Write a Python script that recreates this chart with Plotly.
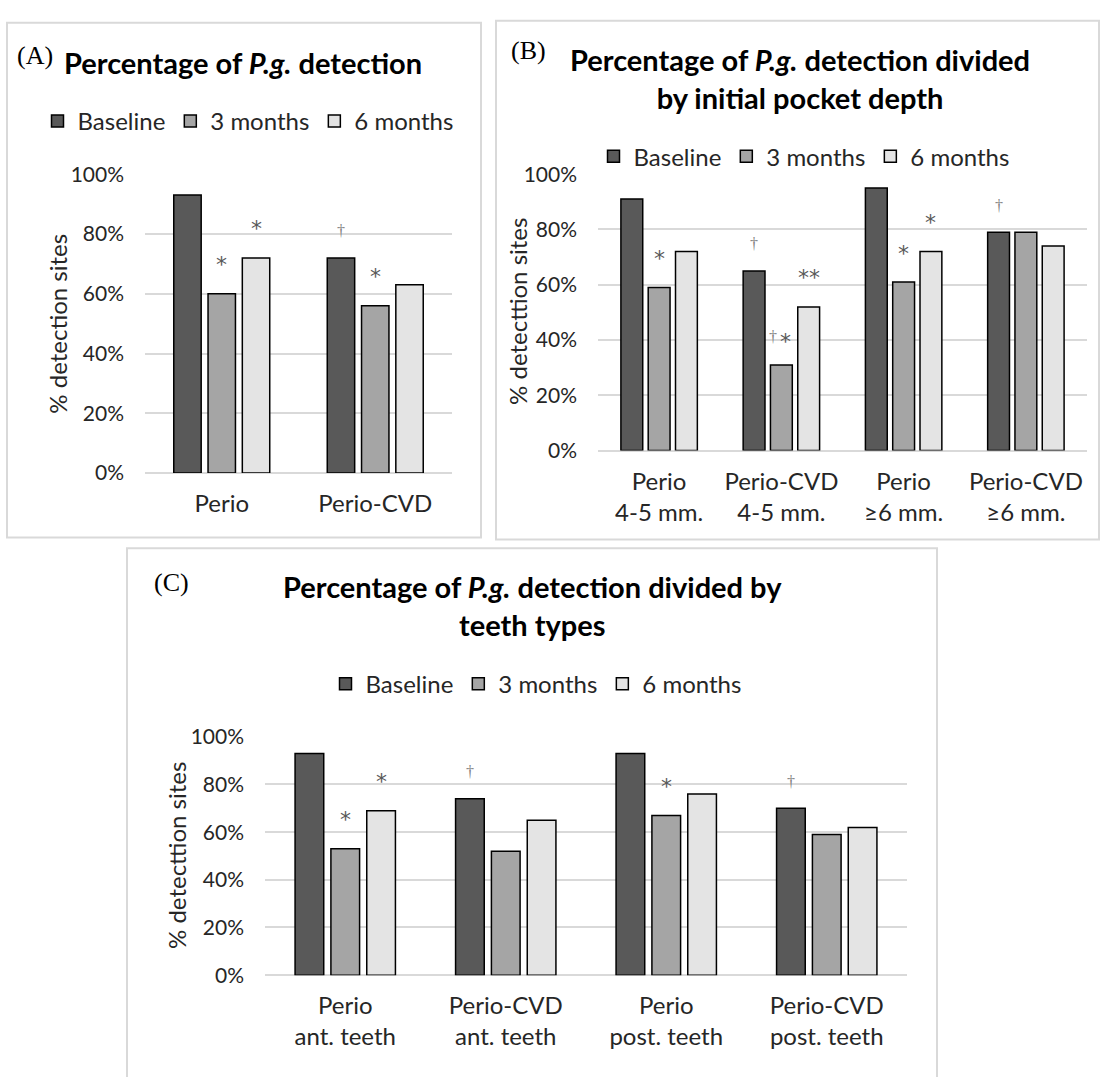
import plotly.graph_objects as go

# ---------------- data ----------------
SERIES = ["Baseline", "3 months", "6 months"]
COLORS = ["#595959", "#a5a5a5", "#e4e4e4"]

A_CATS = ["Perio", "Perio-CVD"]
A_BASE = [93, 72]
A_3M = [60, 56]
A_6M = [72, 63]
A_SIG_BASE = ["", "†"]
A_SIG_3M = ["*", "*"]
A_SIG_6M = ["*", ""]

B_CATS = ["Perio<br>4-5 mm.", "Perio-CVD<br>4-5 mm.", "Perio<br>≥6 mm.", "Perio-CVD<br>≥6 mm."]
B_BASE = [91, 65, 95, 79]
B_3M = [59, 31, 61, 79]
B_6M = [72, 52, 72, 74]
B_SIG_BASE = ["", "†", "", "†"]
B_SIG_3M = ["*", "†*", "*", ""]
B_SIG_6M = ["", "**", "*", ""]

C_CATS = ["Perio<br>ant. teeth", "Perio-CVD<br>ant. teeth", "Perio<br>post. teeth", "Perio-CVD<br>post. teeth"]
C_BASE = [93, 74, 93, 70]
C_3M = [53, 52, 67, 59]
C_6M = [69, 65, 76, 62]
C_SIG_BASE = ["", "†", "", "†"]
C_SIG_3M = ["*", "", "*", ""]
C_SIG_6M = ["*", "", "", ""]

Y_TICKS = [0, 20, 40, 60, 80, 100]
Y_TICK_LABELS = ["0%", "20%", "40%", "60%", "80%", "100%"]

# ---------------- layout helpers ----------------
W, H = 1100, 1077
def px(x):
    return x / W
def py(y):
    return 1 - y / H

BARGAP = 0.33
BARGROUPGAP = 0.2
SLOT = (1 - BARGAP) / 3

TXT = "#262626"
FONT = "Lato"
SERIF = "Liberation Serif"
STAR_FONT = dict(family="DejaVu Sans", size=22, color="#595959")
DAGGER_FONT = dict(family=SERIF, size=16, color="#808080")

panels = [
    dict(key="A", cats=A_CATS, vals=[A_BASE, A_3M, A_6M], sigs=[A_SIG_BASE, A_SIG_3M, A_SIG_6M],
         xdom=[px(145), px(452)], ydom=[py(470), py(164)], legend="legend",
         ytitle="% detection sites", ytitle_xy=(58, 317),
         title="<b>Percentage of <i>P.g.</i> detection</b>", title_xy=(243, 50),
         tag="(A)", tag_xy=(35, 42), leg_xy=(248, 110), border=(7, 9, 481, 536)),
    dict(key="B", cats=B_CATS, vals=[B_BASE, B_3M, B_6M], sigs=[B_SIG_BASE, B_SIG_3M, B_SIG_6M],
         xdom=[px(598), px(1087)], ydom=[py(447), py(164)], legend="legend2",
         ytitle="% detecttion sites", ytitle_xy=(518, 305),
         title="<b>Percentage of <i>P.g.</i> detection divided<br>by initial pocket depth</b>", title_xy=(800, 66),
         tag="(B)", tag_xy=(528, 37), leg_xy=(804, 146), border=(496, 7, 1099, 538)),
    dict(key="C", cats=C_CATS, vals=[C_BASE, C_3M, C_6M], sigs=[C_SIG_BASE, C_SIG_3M, C_SIG_6M],
         xdom=[px(265), px(907)], ydom=[py(984), py(740)], legend="legend3",
         ytitle="% detecttion sites", ytitle_xy=(177, 862),
         title="<b>Percentage of <i>P.g.</i> detection divided by<br>teeth types</b>", title_xy=(532, 606),
         tag="(C)", tag_xy=(171, 582), leg_xy=(536, 686), border=(127, 547, 937, 1090)),
]

fig = go.Figure()
annotations = []
shapes = []
layout_axes = {}

for pi, p in enumerate(panels):
    n = "" if pi == 0 else str(pi + 1)
    xa, ya = "x" + n, "y" + n
    for si, name in enumerate(SERIES):
        fig.add_trace(go.Bar(
            x=p["cats"], y=p["vals"][si], name=name,
            marker=dict(color=COLORS[si], line=dict(color="#000000", width=1.5)),
            xaxis=xa, yaxis=ya, legend=p["legend"], showlegend=True,
            hoverinfo="skip",
        ))
        # significance marks above bars
        for ci, mark in enumerate(p["sigs"][si]):
            if not mark:
                continue
            xpos = ci + (si - 1) * SLOT
            yv = p["vals"][si][ci]
            if mark == "†":
                parts = [("†", DAGGER_FONT, 0, 27)]
            elif "†" in mark:
                parts = [("†", DAGGER_FONT, -8, 28),
                         (mark.replace("†", ""), STAR_FONT, 4, 23)]
            else:
                parts = [(mark, STAR_FONT, 0, 29)]
            for text, font, xs, ys in parts:
                annotations.append(dict(x=xpos, y=yv, xref=xa, yref=ya,
                                        text=text, showarrow=False, font=font,
                                        xanchor="center", yanchor="middle",
                                        xshift=xs, yshift=ys))

    layout_axes["xaxis" + n] = dict(
        domain=p["xdom"], anchor=ya, type="category", showgrid=False, showline=False,
        zeroline=False, ticks="", tickfont=dict(family=FONT, size=24, color=TXT),
        ticklabelstandoff=14, fixedrange=True,
    )
    layout_axes["yaxis" + n] = dict(
        domain=p["ydom"], anchor=xa, range=[0, 100], tickvals=Y_TICKS, ticktext=Y_TICK_LABELS,
        showgrid=True, gridcolor="#d9d9d9", gridwidth=1.5, zeroline=True,
        zerolinecolor="#d9d9d9", zerolinewidth=1.5, showline=False, ticks="",
        tickfont=dict(family=FONT, size=21, color=TXT), ticklabelstandoff=20, fixedrange=True,
    )
    lx, ly = p["leg_xy"]
    layout_axes[p["legend"]] = dict(
        orientation="h", x=px(lx), y=py(ly), xanchor="center", yanchor="middle",
        font=dict(family=FONT, size=24, color=TXT), bgcolor="rgba(0,0,0,0)",
        traceorder="normal",
    )
    # y axis title
    tx, ty = p["ytitle_xy"]
    annotations.append(dict(x=px(tx), y=py(ty), xref="paper", yref="paper", text=p["ytitle"],
                            textangle=-90, showarrow=False,
                            font=dict(family=FONT, size=24, color=TXT),
                            xanchor="center", yanchor="middle"))
    # chart title
    tx, ty = p["title_xy"]
    annotations.append(dict(x=px(tx), y=py(ty), xref="paper", yref="paper", text=p["title"],
                            showarrow=False, font=dict(family=FONT, size=29, color="#000000"),
                            xanchor="center", yanchor="middle", align="center"))
    # panel tag
    tx, ty = p["tag_xy"]
    annotations.append(dict(x=px(tx), y=py(ty), xref="paper", yref="paper", text=p["tag"],
                            showarrow=False, font=dict(family=SERIF, size=26, color="#000000"),
                            xanchor="center", yanchor="middle"))
    # panel border
    x0, y0, x1, y1 = p["border"]
    shapes.append(dict(type="rect", xref="paper", yref="paper",
                       x0=px(x0), x1=px(x1), y0=py(y1), y1=py(y0),
                       line=dict(color="#d9d9d9", width=2), fillcolor="rgba(0,0,0,0)", layer="below"))

fig.update_layout(
    width=W, height=H, margin=dict(l=0, r=0, t=0, b=0),
    paper_bgcolor="#ffffff", plot_bgcolor="rgba(0,0,0,0)",
    barmode="group", bargap=BARGAP, bargroupgap=BARGROUPGAP,
    showlegend=True, annotations=annotations, shapes=shapes,
    font=dict(family=FONT, color=TXT),
    **layout_axes,
)

fig.write_html("out.html", config={"displayModeBar": False},
               post_script="document.body.style.margin='0';document.body.style.overflow='hidden';")
